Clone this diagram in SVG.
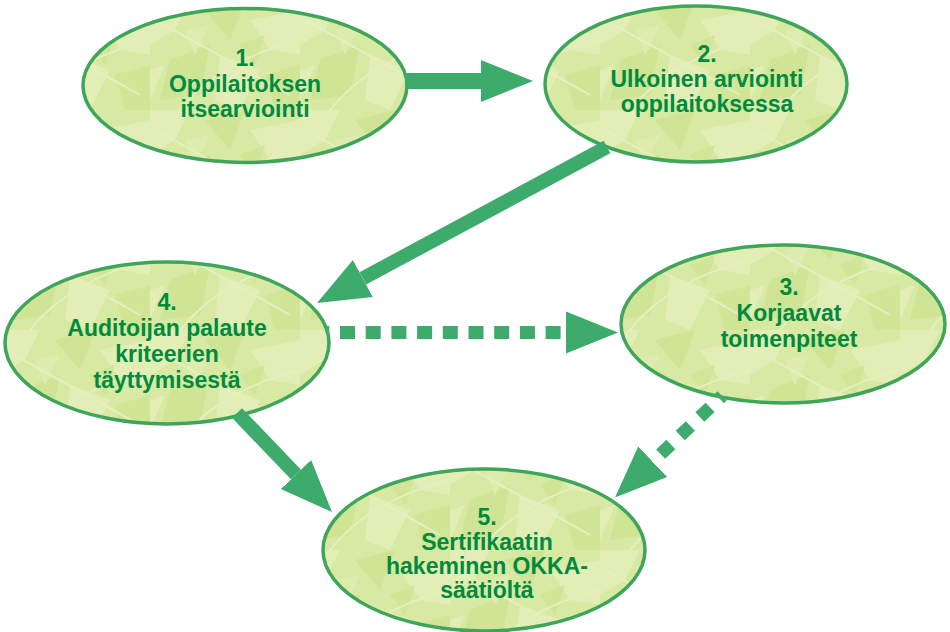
<svg xmlns="http://www.w3.org/2000/svg" width="950" height="632" viewBox="0 0 950 632">
<defs>
<style>
.node{fill:url(#tex);stroke:#3fa55a;stroke-width:3.5}
.lbl{font-family:"Liberation Sans",Arial,sans-serif;font-weight:bold;font-size:23px;fill:#008a3e;text-anchor:middle}
.sh{stroke:#3dab6b;fill:none;stroke-linecap:butt}
</style>
<pattern id="tex" patternUnits="userSpaceOnUse" width="150" height="110">
<rect width="150" height="110" fill="#d7e9a2"/>
<polygon points="0,0 40,0 25,30 0,45" fill="#e2eeb5"/>
<polygon points="55,10 95,0 80,40" fill="#cfe495"/>
<polygon points="100,20 150,10 150,55 120,50" fill="#e2eeb5"/>
<polygon points="20,60 60,45 50,95 10,100" fill="#cfe495"/>
<polygon points="70,55 110,70 90,110 65,100" fill="#e2eeb5"/>
<polygon points="115,75 150,65 150,110 125,110" fill="#d0e596"/>
<polygon points="35,30 60,25 45,55" fill="#dfecb0"/>
<polygon points="0,70 15,65 0,100" fill="#e2eeb5"/>
<polygon points="90,45 115,35 105,65" fill="#d0e596"/>
<path d="M5,20 Q60,50 140,95 M30,110 Q70,60 150,40" stroke="#e4f0bd" stroke-width="2" fill="none"/>
</pattern>
<marker id="head" markerUnits="userSpaceOnUse" markerWidth="60" markerHeight="50" viewBox="0 -25 60 50" refX="0" refY="0" orient="auto">
<path d="M0,-21 L52,0 L0,21 Z" fill="#3dab6b"/>
</marker>
</defs>
<rect width="950" height="632" fill="#ffffff"/>
<g id="node1">
<ellipse class="node" cx="245" cy="85.5" rx="162" ry="77"/>
<text class="lbl" x="245" y="66">1.</text>
<text class="lbl" x="245" y="92">Oppilaitoksen</text>
<text class="lbl" x="245" y="117">itsearviointi</text>
</g>
<g id="node2">
<ellipse class="node" cx="696" cy="84" rx="151" ry="78"/>
<text class="lbl" x="707" y="62">2.</text>
<text class="lbl" x="707" y="87">Ulkoinen arviointi</text>
<text class="lbl" x="707" y="112">oppilaitoksessa</text>
</g>
<g id="node3">
<ellipse class="node" cx="783" cy="324" rx="162" ry="79"/>
<text class="lbl" x="789" y="295">3.</text>
<text class="lbl" x="789" y="321">Korjaavat</text>
<text class="lbl" x="789" y="347">toimenpiteet</text>
</g>
<g id="node4">
<ellipse class="node" cx="167" cy="343" rx="162" ry="81"/>
<text class="lbl" x="167" y="310">4.</text>
<text class="lbl" x="167" y="336">Auditoijan palaute</text>
<text class="lbl" x="167" y="362">kriteerien</text>
<text class="lbl" x="167" y="388">täyttymisestä</text>
</g>
<g id="node5">
<ellipse class="node" cx="484" cy="550" rx="161" ry="81"/>
<text class="lbl" x="487" y="525">5.</text>
<text class="lbl" x="487" y="550">Sertifikaatin</text>
<text class="lbl" x="487" y="574">hakeminen OKKA-</text>
<text class="lbl" x="487" y="598">säätiöltä</text>
</g>
<g id="connectors">
<line class="sh" x1="405" y1="81" x2="481" y2="81" stroke-width="16" marker-end="url(#head)"/>
<line class="sh" x1="607" y1="147" x2="362.8" y2="278.4" stroke-width="14" marker-end="url(#head)"/>
<line class="sh" x1="327" y1="332.5" x2="566" y2="332.5" stroke-width="13" stroke-dasharray="15 10.7" stroke-dashoffset="12.7" marker-end="url(#head)"/>
<line class="sh" x1="722" y1="396" x2="652.7" y2="461.7" stroke-width="13" stroke-dasharray="14 13" stroke-dashoffset="10.5" marker-end="url(#head)"/>
<line class="sh" x1="237" y1="413" x2="296" y2="474.5" stroke-width="14" marker-end="url(#head)"/>
</g>
</svg>
